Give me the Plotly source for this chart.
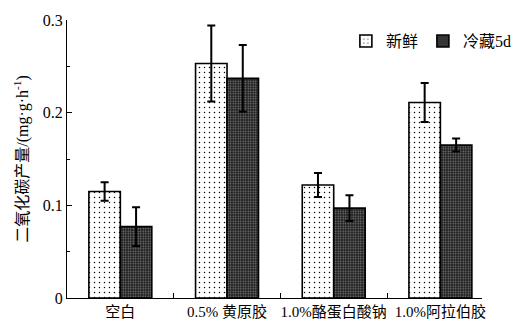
import plotly.graph_objects as go

categories = ["空白", "0.5% 黄原胶", "1.0%酪蛋白酸钠", "1.0%阿拉伯胶"]
series_names = ["新鲜", "冷藏5d"]
fresh = [0.115, 0.253, 0.122, 0.211]
fresh_err = [0.010, 0.041, 0.013, 0.021]
cold = [0.077, 0.237, 0.097, 0.165]
cold_err = [0.021, 0.036, 0.014, 0.007]
y_ticks = [0, 0.1, 0.2, 0.3]
y_tick_text = ["0", "0.1", "0.2", "0.3"]

FONT = "Liberation Serif, Times New Roman, Noto Sans CJK SC, serif"
x = list(range(len(categories)))

fig = go.Figure()
fig.add_trace(go.Bar(
    x=x, y=fresh, name=series_names[0],
    marker=dict(color="white", line=dict(color="black", width=1.6),
                pattern=dict(shape=".", fgcolor="black", bgcolor="white",
                             size=5, solidity=0.07, fillmode="replace")),
    error_y=dict(type="data", array=fresh_err, visible=True,
                 color="black", thickness=2, width=4),
))
fig.add_trace(go.Bar(
    x=x, y=cold, name=series_names[1],
    marker=dict(color="#222222", line=dict(color="black", width=1.6),
                pattern=dict(shape=".", fgcolor="#858585", bgcolor="#1c1c1c",
                             size=2.5, solidity=0.3, fillmode="replace")),
    error_y=dict(type="data", array=cold_err, visible=True,
                 color="black", thickness=2, width=4),
))

fig.update_layout(
    width=529, height=332,
    margin=dict(l=67, r=32, t=16, b=27),
    paper_bgcolor="white", plot_bgcolor="white",
    barmode="group", bargap=0.41, bargroupgap=0,
    font=dict(family=FONT, color="black", size=15),
    showlegend=True,
    legend=dict(orientation="h", x=0.672, y=0.985, xanchor="left", yanchor="top",
                font=dict(family=FONT, size=16), bgcolor="rgba(0,0,0,0)",
                itemwidth=30, tracegroupgap=0),
)
fig.update_xaxes(
    range=[-0.5, 3.39], tickvals=x, ticktext=categories,
    ticks="", showline=True, linecolor="black", linewidth=1.2,
    showgrid=False, zeroline=False,
    tickfont=dict(family=FONT, size=15),
    minor=dict(tickmode="array", tickvals=[0.5, 1.5, 2.5], ticks="inside",
               ticklen=5, tickcolor="black", tickwidth=1, showgrid=False),
)
fig.update_yaxes(
    range=[0, 0.3], tickvals=y_ticks, ticktext=y_tick_text,
    ticks="inside", ticklen=5, tickcolor="black", tickwidth=1,
    showline=True, linecolor="black", linewidth=1.2,
    showgrid=False, zeroline=False,
    tickfont=dict(family=FONT, size=16),
    minor=dict(tickmode="array", tickvals=[0.05, 0.15, 0.25], ticks="inside",
               ticklen=3, tickcolor="black", tickwidth=1, showgrid=False),
    title=dict(text="二氧化碳产量/(mg·g·h<sup>-1</sup>)",
               font=dict(family=FONT, size=16), standoff=10),
)

fig.write_html("out.html")
